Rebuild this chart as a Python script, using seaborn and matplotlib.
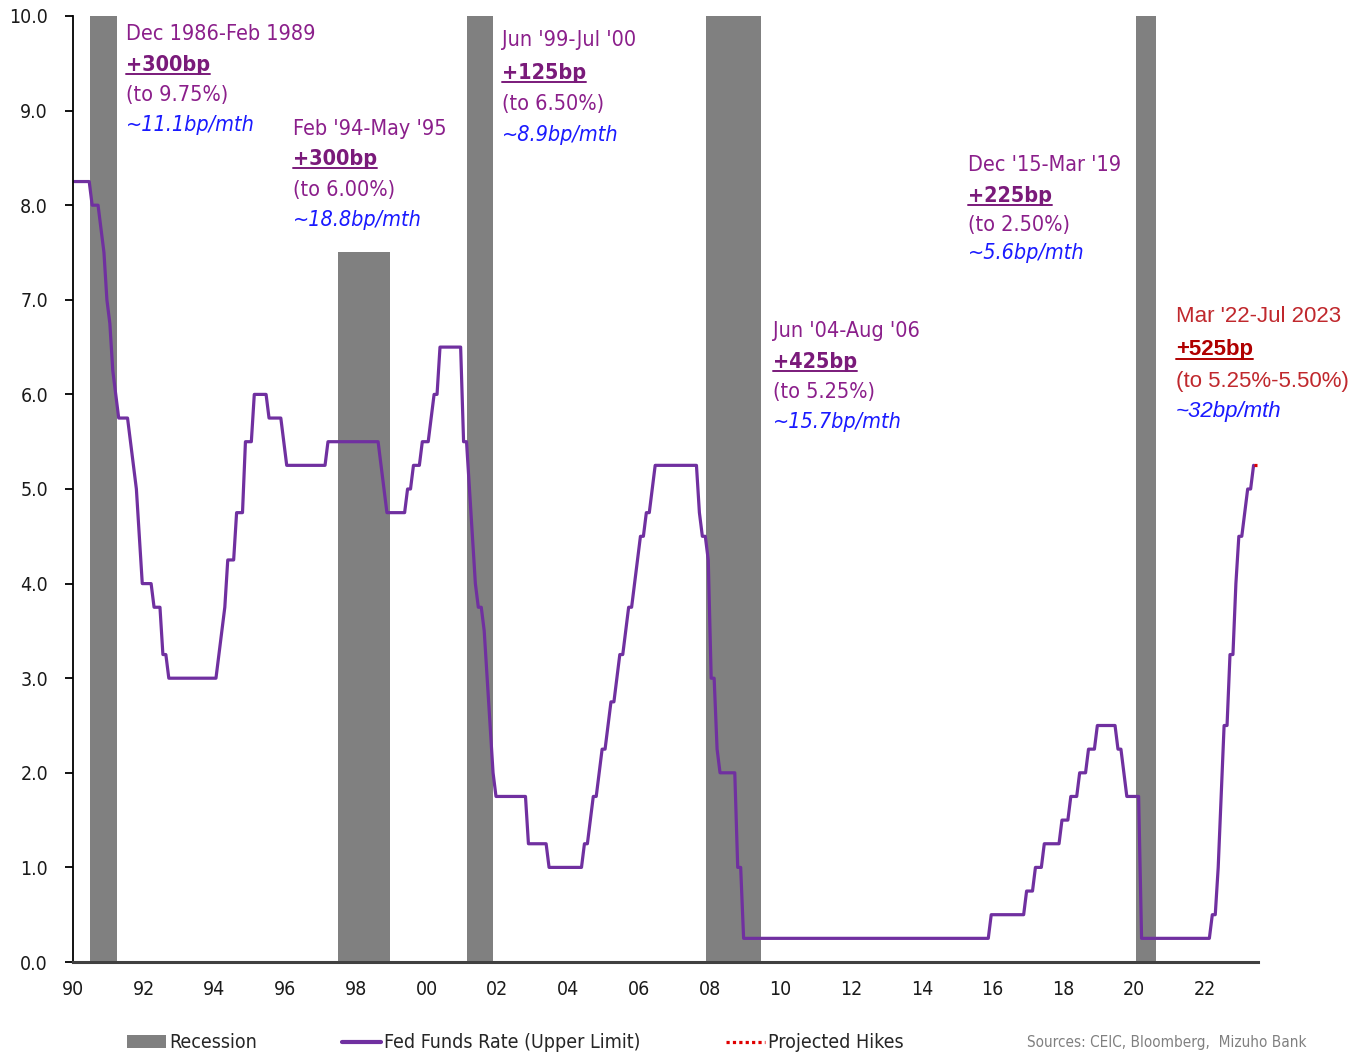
import pandas as pd
import matplotlib
matplotlib.use("Agg")
import matplotlib.pyplot as plt
import seaborn as sns
from matplotlib.lines import Line2D
from matplotlib.patches import Patch

# Fed funds target (upper limit) - month of change and new level
change_months = [
    "1990-01", "1990-07", "1990-10", "1990-11", "1990-12",
    "1991-01", "1991-02", "1991-03", "1991-04", "1991-08", "1991-09", "1991-10", "1991-11", "1991-12",
    "1992-04", "1992-07", "1992-09",
    "1994-02", "1994-03", "1994-04", "1994-05", "1994-08", "1994-11",
    "1995-02", "1995-07", "1995-12", "1996-01", "1997-03",
    "1998-09", "1998-10", "1998-11",
    "1999-06", "1999-08", "1999-11", "2000-02", "2000-03", "2000-05",
    "2001-01", "2001-03", "2001-04", "2001-05", "2001-06", "2001-08", "2001-09", "2001-10", "2001-11", "2001-12",
    "2002-11", "2003-06",
    "2004-06", "2004-08", "2004-09", "2004-11", "2004-12",
    "2005-02", "2005-03", "2005-05", "2005-06", "2005-08", "2005-09", "2005-11", "2005-12",
    "2006-01", "2006-03", "2006-05", "2006-06",
    "2007-09", "2007-10", "2007-12",
    "2008-01", "2008-03", "2008-04", "2008-10", "2008-12",
    "2015-12", "2016-12", "2017-03", "2017-06", "2017-12",
    "2018-03", "2018-06", "2018-09", "2018-12",
    "2019-07", "2019-09", "2019-10", "2020-03",
    "2022-03", "2022-05", "2022-06", "2022-07", "2022-09", "2022-11", "2022-12",
    "2023-02", "2023-03", "2023-05",
]
change_rates = [
    8.25, 8.00, 7.75, 7.50, 7.00,
    6.75, 6.25, 6.00, 5.75, 5.50, 5.25, 5.00, 4.50, 4.00,
    3.75, 3.25, 3.00,
    3.25, 3.50, 3.75, 4.25, 4.75, 5.50,
    6.00, 5.75, 5.50, 5.25, 5.50,
    5.25, 5.00, 4.75,
    5.00, 5.25, 5.50, 5.75, 6.00, 6.50,
    5.50, 5.00, 4.50, 4.00, 3.75, 3.50, 3.00, 2.50, 2.00, 1.75,
    1.25, 1.00,
    1.25, 1.50, 1.75, 2.00, 2.25,
    2.50, 2.75, 3.00, 3.25, 3.50, 3.75, 4.00, 4.25,
    4.50, 4.75, 5.00, 5.25,
    4.75, 4.50, 4.25,
    3.00, 2.25, 2.00, 1.00, 0.25,
    0.50, 0.75, 1.00, 1.25, 1.50,
    1.75, 2.00, 2.25, 2.50,
    2.25, 2.00, 1.75, 0.25,
    0.50, 1.00, 1.75, 2.50, 3.25, 4.00, 4.50,
    4.75, 5.00, 5.25,
]
last_month = "2023-05"

projected_months = ["2023-05", "2023-06"]
projected_rates = [5.25, 5.25]

# recession shading (decimal years) and bar heights
rec_start = [1990.48, 1997.49, 2001.14, 2007.89, 2020.05]
rec_end = [1991.24, 1998.96, 2001.87, 2009.45, 2020.61]
rec_top = [10.0, 7.5, 10.0, 10.0, 10.0]

year_ticks = list(range(1990, 2023, 2))
year_labels = ["90", "92", "94", "96", "98", "00", "02", "04", "06", "08",
               "10", "12", "14", "16", "18", "20", "22"]

# annotation blocks: header, hike, "(to ...)", pace
notes = [
    ("Dec 1986-Feb 1989", "+300bp", "(to 9.75%)", "~11.1bp/mth"),
    ("Feb '94-May '95", "+300bp", "(to 6.00%)", "~18.8bp/mth"),
    ("Jun '99-Jul '00", "+125bp", "(to 6.50%)", "~8.9bp/mth"),
    ("Dec '15-Mar '19", "+225bp", "(to 2.50%)", "~5.6bp/mth"),
    ("Jun '04-Aug '06", "+425bp", "(to 5.25%)", "~15.7bp/mth"),
    ("Mar '22-Jul 2023", "+525bp", "(to 5.25%-5.50%)", "~32bp/mth"),
]


def to_decimal(periods):
    return periods.year + (periods.month - 0.5) / 12


# build monthly series by carrying each level forward to the next change
steps = pd.Series(change_rates, index=pd.PeriodIndex(change_months, freq="M"))
months = pd.period_range(change_months[0], last_month, freq="M")
fed = steps.reindex(months).ffill()
df = pd.DataFrame({"year": to_decimal(fed.index), "rate": fed.values})

proj = pd.PeriodIndex(projected_months, freq="M")
df_proj = pd.DataFrame({"year": to_decimal(proj), "rate": projected_rates})

sns.set_style("white")
narrow = ["DejaVu Sans"]
plt.rcParams["font.family"] = narrow
plt.rcParams["font.stretch"] = "condensed"

W, H = 1350, 1055
fig = plt.figure(figsize=(W / 100, H / 100), dpi=100)
ax = fig.add_axes([73 / W, 1 - 962 / H, (1258 - 73) / W, (962 - 16) / H])

for s, e, t in zip(rec_start, rec_end, rec_top):
    ax.bar(s, t, width=e - s, align="edge", color="#808080", linewidth=0, zorder=1)

sns.lineplot(data=df, x="year", y="rate", ax=ax, color="#7030A0", linewidth=2.3, zorder=3)
sns.lineplot(data=df_proj, x="year", y="rate", ax=ax, color="#E00000", linewidth=2.3,
             linestyle=(0, (1, 1)), zorder=4)

ax.set_xlim(1990, 2023.5)
ax.set_ylim(0, 10)
ax.set_xticks(year_ticks)
ax.set_xticklabels(year_labels)
ax.set_yticks([i for i in range(11)])
ax.set_yticklabels([f"{i:.1f}" for i in range(11)])
ax.set_xlabel("")
ax.set_ylabel("")
for lab in ax.get_xticklabels() + ax.get_yticklabels():
    lab.set_fontsize(14)
    lab.set_color("#1a1a1a")
    lab.set_fontstretch("condensed")
ax.tick_params(axis="x", length=0, pad=13)
ax.tick_params(axis="y", length=6, width=1.3, color="black", pad=12, direction="out", left=True)
sns.despine(ax=ax)
ax.spines["left"].set_color("black")
ax.spines["left"].set_linewidth(1.3)
ax.spines["bottom"].set_color("#404040")
ax.spines["bottom"].set_linewidth(2.2)
ax.spines["left"].set_zorder(5)
ax.spines["bottom"].set_zorder(5)

# annotation text positions (pixel x, pixel y of each line)
note_pos = [
    (126, [34, 65, 95, 125]),
    (293, [129, 159, 190, 220]),
    (502, [40, 73, 104, 135]),
    (968, [165, 196, 225, 253]),
    (773, [331, 362, 392, 422]),
    (1176, [317, 349, 381, 412]),
]
underlined = []
for i, (note, (px, pys)) in enumerate(zip(notes, note_pos)):
    red = i == len(notes) - 1
    fam = ["Liberation Sans", "DejaVu Sans"] if red else narrow
    fs = 16 if red else 15.5
    st = "normal" if red else "condensed"
    head_col = "#C0282D" if red else "#8B1F8B"
    hike_col = "#B00000" if red else "#7A1A7A"
    kw = dict(transform=fig.transFigure, ha="left", va="center", family=fam, fontsize=fs,
              fontstretch=st)
    fig.text(px / W, 1 - pys[0] / H, note[0], color=head_col, **kw)
    t = fig.text(px / W, 1 - pys[1] / H, note[1], color=hike_col, fontweight="bold", **kw)
    underlined.append((t, hike_col))
    fig.text(px / W, 1 - pys[2] / H, note[2], color=head_col, **kw)
    fig.text(px / W, 1 - pys[3] / H, note[3], color="#1A1AFF", style="italic", **kw)

# legend
handles = [
    Patch(facecolor="#808080", edgecolor="none", label="Recession"),
    Line2D([], [], color="#7030A0", linewidth=3, label="Fed Funds Rate (Upper Limit)"),
    Line2D([], [], color="#E00000", linewidth=2.3, linestyle=(0, (1, 1)), label="Projected Hikes"),
]
fig.legend(handles=handles, loc="center left", bbox_to_anchor=(127 / W, 1 - 1043 / H),
           ncol=3, frameon=False, prop={"size": 14, "stretch": "condensed"},
           handlelength=2.0, handleheight=0.6,
           handletextpad=0.15, columnspacing=4.4, borderpad=0, borderaxespad=0)
fig.text(1027 / W, 1 - 1042 / H, "Sources: CEIC, Bloomberg,  Mizuho Bank",
         ha="left", va="center", fontsize=11, color="#808080", fontstretch="condensed")

# underline the bp figures
fig.canvas.draw()
inv = fig.transFigure.inverted()
for t, col in underlined:
    bb = t.get_window_extent()
    (x0, y0), (x1, _) = inv.transform([(bb.x0, bb.y0 + 1), (bb.x1, bb.y0 + 1)])
    fig.add_artist(Line2D([x0, x1], [y0, y0], transform=fig.transFigure, color=col, linewidth=1.4))

fig.savefig("out.png", dpi=100)
